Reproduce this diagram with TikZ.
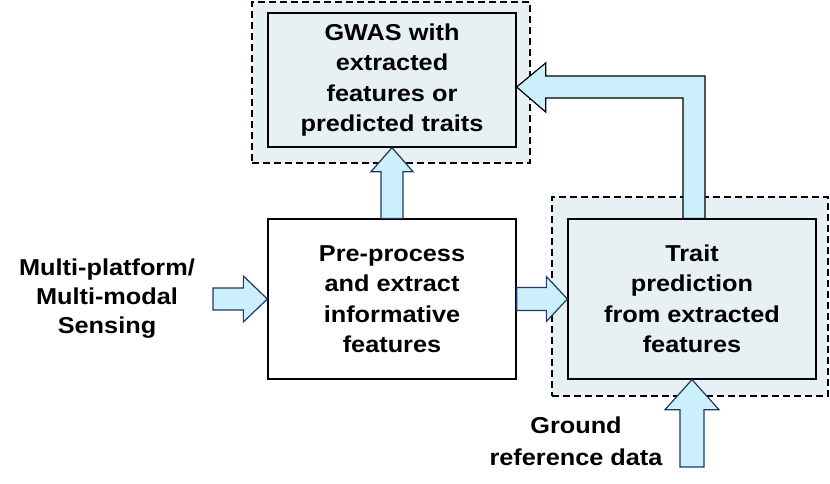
\documentclass[tikz,border=0pt]{standalone}
\usepackage{fontspec}
\setmainfont{Liberation Sans}[FakeStretch=1.1]
\usetikzlibrary{calc}
\definecolor{panelgrey}{HTML}{E7F0F2}
\definecolor{arrowfill}{HTML}{CCEFFC}
\definecolor{arrowline}{HTML}{1F3864}
\tikzset{box/.style={draw=black,line width=1.3pt,minimum width=248pt,minimum height=160pt,align=center,font=\fontsize{23}{30.5}\selectfont\bfseries,inner sep=0pt},panel/.style={draw=black,dash pattern=on 7pt off 4pt,line width=1.4pt,fill=panelgrey,inner sep=0pt},fat/.style={draw=arrowline,line width=1.2pt,fill=arrowfill,line join=miter},label/.style={align=center,font=\fontsize{23}{29}\selectfont\bfseries}}

\begin{document}
\begin{tikzpicture}[x=1pt,y=-1pt]
\useasboundingbox (0,0) rectangle (830,483);
\node[panel,minimum width=278pt,minimum height=161pt] (gwaspanel) at (391,82.5) {};
\node[panel,minimum width=276pt,minimum height=199pt] (traitpanel) at (690,296.5) {};
\node[box,fill=panelgrey,minimum height=134pt] (gwas) at (392,80)
 {GWAS with\\extracted\\features or\\predicted traits};
\node[box,fill=white] (prep) at (392,299)
 {Pre-process\\and extract\\informative\\features};
\node[box,fill=panelgrey] (trait) at (692,299)
 {Trait\\prediction\\from extracted\\features};
\node[label] (sensing) at (107,299) {Multi-platform/\\Multi-modal\\Sensing};
\node[label] (ground) at (576,441) {Ground\\[3pt]reference data};
\coordinate (sensetail) at (213,299);
\coordinate (groundtail) at (692,467);
\coordinate (bend) at (694,87);
\coordinate (gwastip) at (gwas.east |- bend);
\coordinate (elbfoot) at (bend |- trait.north);
% sensing -> pre-process
\draw[fat] ($(sensetail)+(0,-11)$) -- ($(prep.west)+(-24,-11)$) -- ($(prep.west)+(-24,-23)$) -- (prep.west)
 -- ($(prep.west)+(-24,23)$) -- ($(prep.west)+(-24,11)$) -- ($(sensetail)+(0,11)$) -- cycle;
% pre-process -> trait prediction
\draw[fat] ($(prep.east)+(0,-11.5)$) -- ($(trait.west)+(-21,-11.5)$) -- ($(trait.west)+(-21,-22.5)$) -- (trait.west)
 -- ($(trait.west)+(-21,22.5)$) -- ($(trait.west)+(-21,11.5)$) -- ($(prep.east)+(0,11.5)$) -- cycle;
% pre-process -> GWAS
\draw[fat] ($(prep.north)+(-11,0)$) -- ($(gwas.south)+(-11,24)$) -- ($(gwas.south)+(-21,24)$) -- (gwas.south)
 -- ($(gwas.south)+(21,24)$) -- ($(gwas.south)+(11,24)$) -- ($(prep.north)+(11,0)$) -- cycle;
% trait prediction -> GWAS
\draw[fat,draw=black] ($(elbfoot)+(-11,0)$) -- ($(bend)+(-11,11)$) -- ($(gwastip)+(29,11)$) -- ($(gwastip)+(29,25)$)
 -- (gwastip) -- ($(gwastip)+(29,-24)$) -- ($(gwastip)+(29,-11)$) -- ($(bend)+(11,-11)$) -- ($(elbfoot)+(11,0)$) -- cycle;
% ground reference -> trait prediction
\draw[fat] ($(groundtail)+(-12,0)$) -- ($(trait.south)+(-12,30)$) -- ($(trait.south)+(-27,30)$) -- (trait.south)
 -- ($(trait.south)+(27,30)$) -- ($(trait.south)+(12,30)$) -- ($(groundtail)+(12,0)$) -- cycle;
\end{tikzpicture}
\end{document}
